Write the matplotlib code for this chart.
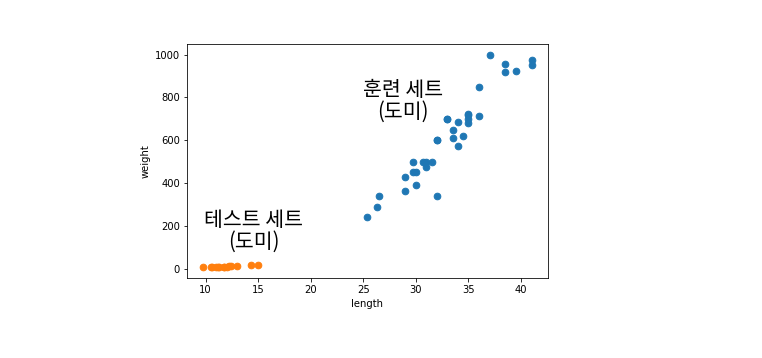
import matplotlib
matplotlib.use("Agg")
import matplotlib.pyplot as plt

train_length = [25.4, 26.3, 26.5, 29.0, 29.0, 29.7, 29.7, 30.0, 30.0, 30.7, 31.0, 31.0,
                31.5, 32.0, 32.0, 32.0, 33.0, 33.0, 33.5, 33.5, 34.0, 34.0, 34.5, 35.0,
                35.0, 35.0, 35.0, 36.0, 36.0, 37.0, 38.5, 38.5, 39.5, 41.0, 41.0]
train_weight = [242.0, 290.0, 340.0, 363.0, 430.0, 450.0, 500.0, 390.0, 450.0, 500.0,
                475.0, 500.0, 500.0, 340.0, 600.0, 600.0, 700.0, 700.0, 610.0, 650.0,
                575.0, 685.0, 620.0, 680.0, 700.0, 725.0, 720.0, 714.0, 850.0, 1000.0,
                920.0, 955.0, 925.0, 975.0, 950.0]
test_length = [9.8, 10.5, 10.6, 11.0, 11.2, 11.3, 11.8, 11.8, 12.0, 12.2, 12.4, 13.0, 14.3, 15.0]
test_weight = [6.7, 7.5, 7.0, 9.7, 9.8, 8.7, 10.0, 9.9, 9.8, 12.2, 13.4, 12.2, 19.7, 19.9]

train_label = "훈련 세트\n(도미)"
test_label = "테스트 세트\n(도미)"

W, H, DPI = 762, 358, 72
fig = plt.figure(figsize=(W / DPI, H / DPI), dpi=DPI)
ax = fig.add_axes([187 / W, 1 - 278 / H, (548 - 187) / W, (278 - 44) / H])

ax.scatter(train_length, train_weight, s=44)
ax.scatter(test_length, test_weight, s=44)
ax.set_xlabel("length")
ax.set_ylabel("weight")

kfont = ["Noto Sans CJK KR", "DejaVu Sans"]
fig.text(403 / W, 1 - 100.5 / H, train_label, ha="center", va="center",
         fontsize=20.5, family=kfont, linespacing=1.0, weight="medium")
fig.text(254 / W, 1 - 231 / H, test_label, ha="center", va="center",
         fontsize=20.5, family=kfont, linespacing=1.0, weight="medium")

fig.savefig("out.png", dpi=DPI)
